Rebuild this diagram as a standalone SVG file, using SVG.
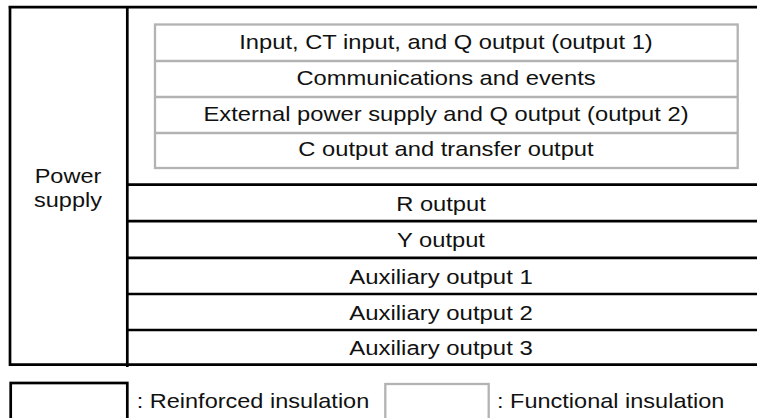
<svg xmlns="http://www.w3.org/2000/svg" width="757" height="418" viewBox="0 0 757 418">
  <style>
    .blk { fill: none; stroke: #000; stroke-width: 2.7; }
    .gry { fill: none; stroke: #b3b3b3; stroke-width: 2.3; }
    .t { font-family: "Liberation Sans", Arial, Helvetica, sans-serif; font-size: 21px; fill: #111; }
    .c { text-anchor: middle; }
  </style>
  <rect width="757" height="418" fill="#fff"/>
  <g id="connectors">
    <path class="blk" d="M8.5 7.2 H757 M10 6 V365.7 M8.7 364.7 H757 M127.3 6 V367"/>
    <path class="blk" d="M127.3 184.7 H757 M127.3 221.2 H757 M127.3 257.8 H757 M127.3 294 H757 M127.3 330 H757"/>
    <path class="gry" d="M155 61 H737.7 M155 97 H737.7 M155 133 H737.7"/>
  </g>
  <g id="power-supply">
    <text class="t c" transform="translate(68,182.5) scale(1.12,1)">Power</text>
    <text class="t c" transform="translate(68,207.3) scale(1.12,1)">supply</text>
  </g>
  <g id="functional-group">
    <rect class="gry" x="155" y="24.5" width="582.7" height="143.5"/>
  </g>
  <g id="row-input">
    <text class="t c" transform="translate(446,48.6) scale(1.13,1)">Input, CT input, and Q output (output 1)</text>
  </g>
  <g id="row-comms">
    <text class="t c" transform="translate(446,84.6) scale(1.13,1)">Communications and events</text>
  </g>
  <g id="row-external">
    <text class="t c" transform="translate(446,120.6) scale(1.13,1)">External power supply and Q output (output 2)</text>
  </g>
  <g id="row-c-output">
    <text class="t c" transform="translate(446,156.2) scale(1.13,1)">C output and transfer output</text>
  </g>
  <g id="row-r-output">
    <text class="t c" transform="translate(441,210.6) scale(1.13,1)">R output</text>
  </g>
  <g id="row-y-output">
    <text class="t c" transform="translate(441,247.2) scale(1.13,1)">Y output</text>
  </g>
  <g id="row-aux1">
    <text class="t c" transform="translate(441,283.5) scale(1.14,1)">Auxiliary output 1</text>
  </g>
  <g id="row-aux2">
    <text class="t c" transform="translate(441,319.5) scale(1.14,1)">Auxiliary output 2</text>
  </g>
  <g id="row-aux3">
    <text class="t c" transform="translate(441,355) scale(1.14,1)">Auxiliary output 3</text>
  </g>
  <g id="legend-reinforced">
    <rect class="blk" x="10.7" y="383" width="116.6" height="45"/>
    <text class="t" transform="translate(136.7,407.5) scale(1.12,1)">: Reinforced insulation</text>
  </g>
  <g id="legend-functional">
    <rect class="gry" x="385.3" y="384" width="103.4" height="45"/>
    <text class="t" transform="translate(497,407.5) scale(1.12,1)">: Functional insulation</text>
  </g>
</svg>
